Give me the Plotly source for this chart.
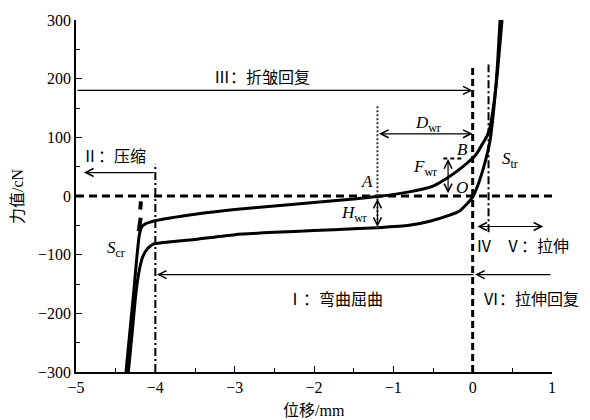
import plotly.graph_objects as go

# ---------------- data ----------------
x_ticks = [-5, -4, -3, -2, -1, 0, 1]
y_ticks = [-300, -200, -100, 0, 100, 200, 300]

# upper branch of the hysteresis loop
upper_x = [-4.37, -4.32, -4.27, -4.23, -4.20, -4.17, -4.12, -4.05, -4.0, -3.5, -3.0, -2.5,
           -2.0, -1.5, -1.2, -0.8, -0.5, -0.33, -0.2, -0.07, 0.05, 0.12, 0.18, 0.22,
           0.26, 0.30, 0.335, 0.37]
upper_y = [-300, -230, -160, -100, -65, -52, -47, -44, -42, -31, -23, -17,
           -11, -5, -1, 7, 17, 30, 42, 56, 72, 88, 102, 118,
           150, 195, 245, 300]

# lower branch of the hysteresis loop
lower_x = [-4.34, -4.29, -4.24, -4.20, -4.16, -4.10, -4.04, -4.0, -3.5, -3.0, -2.5,
           -2.0, -1.5, -1.2, -0.8, -0.54, -0.3, -0.16, 0.0, 0.07, 0.13, 0.18, 0.22,
           0.26, 0.295, 0.32, 0.345]
lower_y = [-300, -230, -160, -125, -104, -90, -83, -81, -74, -66, -62,
           -59, -56, -54, -50, -43, -33, -25, -2, 20, 45, 70, 95,
           140, 190, 240, 300]

# steep compression extension and its dashed tip
ext_x = [-4.21, -4.185]
ext_y = [-60, -37]
tip_x = [-4.19, -4.182]
tip_y = [-23, -9]

# reference lines
zero_line = dict(x0=-5, x1=1.0, y=0)
v_zero = dict(x=0.0, y0=-300, y1=224)
v_cr = dict(x=-4.0, y0=-300, y1=55)
v_a = dict(x=-1.2, y0=-55, y1=156)
v_tr = dict(x=0.2, y0=-62, y1=224)
f_top = dict(x0=-0.37, x1=-0.13, y=64)

# arrows: (tail_x, tail_y, head_x, head_y, double)
arrows = [
    (-5.0, 180, 0.0, 180, False),     # III
    (-4.0, 40, -4.9, 40, False),      # II
    (-1.2, 106, 0.0, 106, True),      # D_wr
    (-0.31, 2, -0.31, 63, True),      # F_wr
    (-1.2, -2, -1.2, -53, True),      # H_wr
    (1.0, -134, 0.03, -134, False),   # VI
    (0.03, -134, -3.98, -134, False), # I
    (0.04, -52, 0.89, -52, True),     # IV / V
]

# text labels: (x, y, text, anchor)
cn_labels = [
    (-2.65, 202, "Ⅲ：折皱回复", "center"),
    (-4.52, 68, "Ⅱ：压缩", "center"),
    (-1.73, -176, "Ⅰ：弯曲屈曲", "center"),
    (0.11, -176, "Ⅵ：拉伸回复", "left"),
    (0.14, -86, "Ⅳ", "center"),
    (0.81, -86, "Ⅴ：拉伸", "center"),
]
it_labels = [
    (-0.56, 123, "<i>D</i><sub>wr</sub>"),
    (-0.6, 47, "<i>F</i><sub>wr</sub>"),
    (-1.5, -31, "<i>H</i><sub>wr</sub>"),
    (-1.33, 25, "<i>A</i>"),
    (-0.13, 80, "<i>B</i>"),
    (-0.14, 14, "<i>O</i>"),
    (0.47, 61, "<i>S</i><sub>tr</sub>"),
    (-4.5, -90, "<i>S</i><sub>cr</sub>"),
]

SERIF = "Liberation Serif, Times New Roman, serif"
CJK = "Liberation Serif, Noto Sans CJK SC, serif"

fig = go.Figure()

fig.add_trace(go.Scatter(x=upper_x, y=upper_y, mode="lines",
                         line=dict(color="black", width=3, shape="spline", smoothing=0.6),
                         showlegend=False, hoverinfo="skip"))
fig.add_trace(go.Scatter(x=lower_x, y=lower_y, mode="lines",
                         line=dict(color="black", width=3, shape="spline", smoothing=0.6),
                         showlegend=False, hoverinfo="skip"))
fig.add_trace(go.Scatter(x=ext_x, y=ext_y, mode="lines",
                         line=dict(color="black", width=4),
                         showlegend=False, hoverinfo="skip"))
fig.add_trace(go.Scatter(x=tip_x, y=tip_y, mode="lines",
                         line=dict(color="black", width=4),
                         showlegend=False, hoverinfo="skip"))

# reference lines
fig.add_shape(type="line", xref="x", yref="y", x0=zero_line["x0"], x1=zero_line["x1"],
              y0=zero_line["y"], y1=zero_line["y"],
              line=dict(color="black", width=3, dash="8px,5px"))
fig.add_shape(type="line", xref="x", yref="y", x0=v_zero["x"], x1=v_zero["x"],
              y0=v_zero["y0"], y1=v_zero["y1"],
              line=dict(color="black", width=3, dash="7px,4px"))
fig.add_shape(type="line", xref="x", yref="y", x0=v_cr["x"], x1=v_cr["x"],
              y0=v_cr["y0"], y1=v_cr["y1"],
              line=dict(color="black", width=2, dash="8px,3px,2px,3px"))
fig.add_shape(type="line", xref="x", yref="y", x0=v_a["x"], x1=v_a["x"],
              y0=v_a["y0"], y1=v_a["y1"],
              line=dict(color="#333333", width=2, dash="2px,2px"))
fig.add_shape(type="line", xref="x", yref="y", x0=v_tr["x"], x1=v_tr["x"],
              y0=v_tr["y0"], y1=v_tr["y1"],
              line=dict(color="black", width=2, dash="8px,3px,2px,3px"))
fig.add_shape(type="line", xref="x", yref="y", x0=f_top["x0"], x1=f_top["x1"],
              y0=f_top["y"], y1=f_top["y"],
              line=dict(color="black", width=2, dash="4px,3px"))

annotations = []
for tx, ty, hx, hy, dbl in arrows:
    annotations.append(dict(
        x=hx, y=hy, ax=tx, ay=ty, xref="x", yref="y", axref="x", ayref="y",
        text="", showarrow=True, arrowhead=5, startarrowhead=5,
        arrowside="end+start" if dbl else "end",
        arrowsize=1.3, startarrowsize=1.3, arrowwidth=1.2, arrowcolor="black",
        standoff=0, startstandoff=0))

for x, y, t, anc in cn_labels:
    annotations.append(dict(x=x, y=y, xref="x", yref="y", text=t, showarrow=False,
                            xanchor=anc, yanchor="middle",
                            font=dict(family=CJK, size=16, color="black")))
for x, y, t in it_labels:
    annotations.append(dict(x=x, y=y, xref="x", yref="y", text=t, showarrow=False,
                            xanchor="center", yanchor="middle",
                            font=dict(family=SERIF, size=17, color="black")))

# axis titles
annotations.append(dict(x=0.5, y=-0.11, xref="paper", yref="paper", text="位移/mm",
                        showarrow=False, xanchor="center", yanchor="middle",
                        font=dict(family=CJK, size=16, color="black")))
annotations.append(dict(x=-0.124, y=0.5, xref="paper", yref="paper", text="力值/cN",
                        showarrow=False, xanchor="center", yanchor="middle", textangle=-90,
                        font=dict(family=CJK, size=16, color="black")))

fig.update_layout(
    width=590, height=420,
    margin=dict(l=76, r=38, t=17, b=48),
    paper_bgcolor="white", plot_bgcolor="white",
    annotations=annotations,
    font=dict(family=SERIF, size=16, color="black"),
    xaxis=dict(range=[-5, 1], tickvals=x_ticks, ticks="inside", ticklen=6, tickwidth=1.3,
               tickcolor="black", showline=True, linecolor="black", linewidth=1.5,
               showgrid=False, zeroline=False, mirror=False,
               minor=dict(dtick=0.5, tick0=0, ticks="inside", ticklen=4, tickwidth=1.2,
                          tickcolor="black", showgrid=False),
               tickfont=dict(family=SERIF, size=16, color="black")),
    yaxis=dict(range=[-300, 300], tickvals=y_ticks, ticks="inside", ticklen=6, tickwidth=1.3,
               tickcolor="black", showline=True, linecolor="black", linewidth=1.5,
               showgrid=False, zeroline=False, mirror=False,
               minor=dict(dtick=50, tick0=0, ticks="inside", ticklen=4, tickwidth=1.2,
                          tickcolor="black", showgrid=False),
               tickfont=dict(family=SERIF, size=16, color="black")),
)

fig.write_html("out.html", config={"displayModeBar": False},
               post_script="document.body.style.margin='0';document.body.style.overflow='hidden';")
